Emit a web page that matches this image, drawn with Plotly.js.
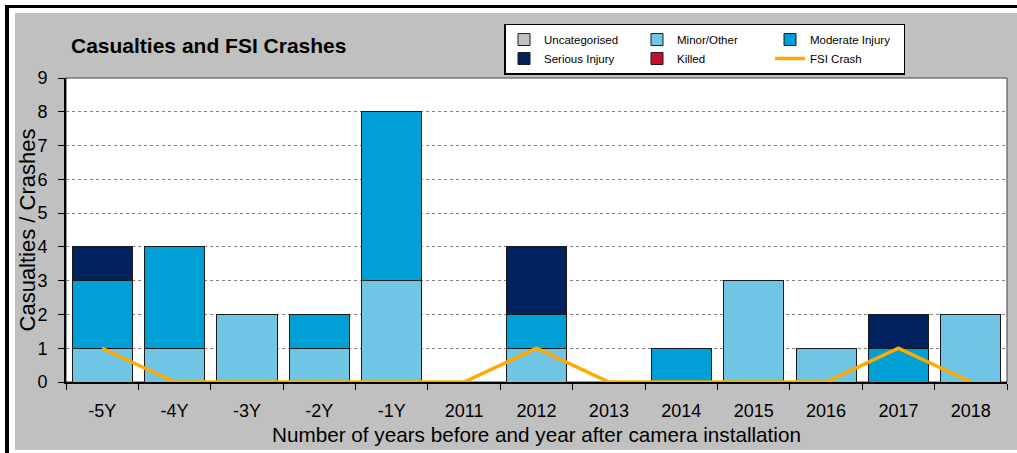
<!DOCTYPE html>
<html>
<head>
<meta charset="utf-8">
<script src="https://cdn.plot.ly/plotly-3.0.1.min.js"></script>
<style>
  html, body { margin: 0; padding: 0; background: #ffffff; width: 1017px; height: 453px; overflow: hidden; }
  #frameTop { position: absolute; left: 5px; top: 5px; width: 1012px; height: 3px; background: #000; }
  #frameLeft { position: absolute; left: 5px; top: 5px; width: 4px; height: 448px; background: #000; }
  #chart { position: absolute; left: 15px; top: 13px; width: 1002px; height: 437px; }
</style>
</head>
<body>
<div id="frameTop"></div>
<div id="frameLeft"></div>
<div id="chart"></div>
<script>
const categories = ['-5Y', '-4Y', '-3Y', '-2Y', '-1Y', '2011', '2012', '2013', '2014', '2015', '2016', '2017', '2018'];
const uncategorised = [0, 0, 0, 0, 0, 0, 0, 0, 0, 0, 0, 0, 0];
const minorOther    = [1, 1, 2, 1, 3, 0, 1, 0, 0, 3, 1, 0, 2];
const moderate      = [2, 3, 0, 1, 5, 0, 1, 0, 1, 0, 0, 1, 0];
const serious       = [1, 0, 0, 0, 0, 0, 2, 0, 0, 0, 0, 1, 0];
const killed        = [0, 0, 0, 0, 0, 0, 0, 0, 0, 0, 0, 0, 0];
const fsiCrash      = [1, 0, 0, 0, 0, 0, 1, 0, 0, 0, 0, 1, 0];

const FONT = 'Arial, "Liberation Sans", sans-serif';
const outline = { color: '#1a1a1a', width: 1 };

function barTrace(name, values, color, group) {
  return {
    type: 'bar', name: name, x: categories, y: values,
    marker: { color: color, line: outline },
    legendgroup: group, hoverinfo: 'x+y+name'
  };
}

const traces = [
  barTrace('Uncategorised', uncategorised, '#C0C0C0', 'g1'),
  barTrace('Minor/Other', minorOther, '#70C4E4', 'g2'),
  barTrace('Moderate Injury', moderate, '#009FD6', 'g3'),
  barTrace('Serious Injury', serious, '#00235F', 'g1'),
  barTrace('Killed', killed, '#C8102E', 'g2'),
  {
    type: 'scatter', mode: 'lines', name: 'FSI Crash', x: categories, y: fsiCrash,
    line: { color: '#FFAA00', width: 3.5 }, legendgroup: 'g3'
  }
];

const layout = {
  width: 1002, height: 437,
  margin: { l: 51, r: 10, t: 62, b: 68 },
  paper_bgcolor: '#C0C0C0',
  plot_bgcolor: '#FFFFFF',
  font: { family: FONT, color: '#000000' },
  barmode: 'stack',
  bargap: 0.17,
  showlegend: true,
  title: {
    text: 'Casualties and FSI Crashes',
    font: { family: FONT, size: 21, weight: 700, color: '#000' },
    xref: 'container', x: 56 / 1002, xanchor: 'left',
    yref: 'container', y: 1 - 33 / 437, yanchor: 'middle'
  },
  legend: {
    orientation: 'h', traceorder: 'grouped',
    x: (489 - 51) / 941, xanchor: 'left',
    y: 1 + (62 - 7) / 307, yanchor: 'top',
    bgcolor: '#FFFFFF', bordercolor: '#000000', borderwidth: 1.5,
    font: { family: FONT, size: 11.5, color: '#000' },
    entrywidth: 88, entrywidthmode: 'pixels', tracegroupgap: 0
  },
  xaxis: {
    type: 'category',
    showline: true, linecolor: '#000', linewidth: 2,
    ticks: 'outside', tickson: 'boundaries', ticklen: 6, tickcolor: '#000', tickwidth: 1,
    showgrid: false, zeroline: false,
    tickfont: { family: FONT, size: 18, color: '#000' },
    ticklabelstandoff: 11
  },
  yaxis: {
    range: [0, 9], dtick: 1, tick0: 0,
    showline: true, linecolor: '#000', linewidth: 2,
    ticks: 'outside', ticklen: 6, tickcolor: '#000', tickwidth: 1,
    showgrid: true, gridcolor: '#808080', gridwidth: 1, griddash: 'dot',
    zeroline: false,
    tickfont: { family: FONT, size: 18, color: '#000' },
    ticklabelstandoff: 7,
    title: { text: 'Casualties / Crashes', font: { family: FONT, size: 22, color: '#000' }, standoff: 0 }
  },
  annotations: [
    { text: 'Number of years before and year after camera installation',
      xref: 'paper', yref: 'paper', x: 0.5, y: 0, xanchor: 'center', yanchor: 'middle',
      yshift: -52, showarrow: false,
      font: { family: FONT, size: 20.7, color: '#000' } }
  ],
  shapes: [
    { type: 'rect', xref: 'paper', yref: 'paper', x0: 0, x1: 1, y0: 0, y1: 1,
      line: { color: '#404040', width: 1 }, layer: 'below' }
  ]
};

Plotly.newPlot('chart', traces, layout, { displayModeBar: false, staticPlot: true });
</script>
</body>
</html>
